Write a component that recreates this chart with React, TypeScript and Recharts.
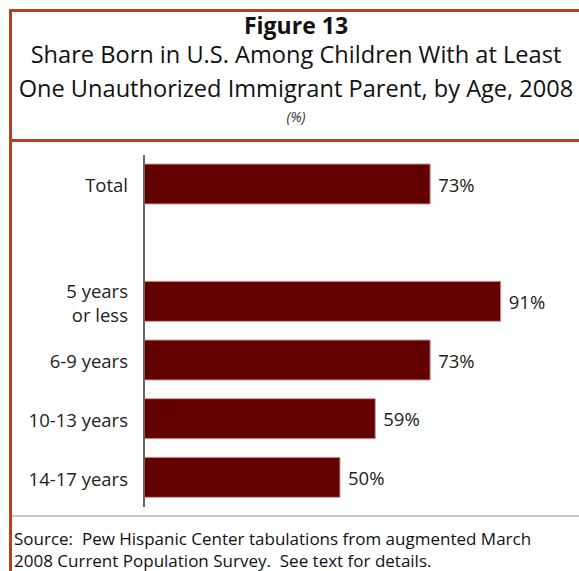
import React from 'react';
import { BarChart, Bar, XAxis, YAxis, LabelList } from 'recharts';

const categories = ['Total', '', '5 years\nor less', '6-9 years', '10-13 years', '14-17 years'];
const values: (number | null)[] = [73, null, 91, 73, 59, 50];

const titleMain = 'Figure 13';
const titleLines = ['Share Born in U.S. Among Children With at Least', 'One Unauthorized Immigrant Parent, by Age, 2008'];
const unitLabel = '(%)';
const sourceLines = [
  'Source:  Pew Hispanic Center tabulations from augmented March',
  '2008 Current Population Survey.  See text for details.',
];

const data = categories.map((name, i) => ({ name, value: values[i] }));

const FONT = '"Open Sans", "Noto Sans", sans-serif';
const FRAME = '#b5421d';

const Tick = (props: any) => {
  const { x, y, payload } = props;
  const lines = String(payload.value).split('\n');
  const lh = 24;
  const start = y - ((lines.length - 1) * lh) / 2;
  return (
    <text x={x} y={start} textAnchor="end" fill="#222" fontSize={18.5} fontFamily={FONT} dominantBaseline="central">
      {lines.map((l, i) => (
        <tspan key={i} x={x} dy={i === 0 ? 0 : lh}>
          {l}
        </tspan>
      ))}
    </text>
  );
};

const ValueLabel = (props: any) => {
  const { x, y, width, height, value } = props;
  if (value === null || value === undefined) return null;
  return (
    <text x={x + width + 8} y={y + height / 2} fill="#222" fontSize={18.5} fontFamily={FONT} dominantBaseline="central">
      {value}%
    </text>
  );
};

export default function App() {
  return (
    <div style={{ position: 'fixed', left: 8, top: 8, width: 571, height: 563, overflow: 'hidden', fontFamily: FONT, background: '#fff' }}>
      <div style={{ position: 'absolute', left: 1, top: 1, width: 574, height: 620, border: `3px solid ${FRAME}`, boxSizing: 'border-box' }} />
      <div style={{ position: 'absolute', left: 1, top: 131, width: 574, height: 3, background: FRAME }} />
      <div style={{ position: 'absolute', left: 0, top: 4, width: 576, textAlign: 'center', fontSize: 23, fontWeight: 700, lineHeight: '26px', color: '#111' }}>
        {titleMain}
      </div>
      {titleLines.map((t, i) => (
        <div key={i} style={{ position: 'absolute', left: 0, top: 30 + i * 34, width: 576, textAlign: 'center', fontSize: 23.6, lineHeight: '32px', color: '#111', whiteSpace: 'nowrap' }}>
          {t}
        </div>
      ))}
      <div style={{ position: 'absolute', left: 0, top: 99, width: 576, textAlign: 'center', fontSize: 14, fontStyle: 'italic', lineHeight: '20px', color: '#333' }}>
        {unitLabel}
      </div>
      <div style={{ position: 'absolute', left: 0, top: 137 }}>
        <BarChart width={571} height={380} data={data} layout="vertical" margin={{ top: 10, right: 43, bottom: 18, left: 0 }}>
          <XAxis type="number" domain={[0, 100]} hide />
          <YAxis
            type="category"
            dataKey="name"
            width={136}
            axisLine={{ stroke: '#666', strokeWidth: 2 }}
            tickLine={false}
            tickMargin={10}
            tick={<Tick />}
            interval={0}
          />
          <Bar dataKey="value" fill="#630000" stroke="#c99" strokeWidth={1} barSize={40} isAnimationActive={false}>
            <LabelList dataKey="value" content={<ValueLabel />} />
          </Bar>
        </BarChart>
      </div>
      <div style={{ position: 'absolute', left: 4, top: 507, width: 572, height: 2, background: '#c8c8c8' }} />
      {sourceLines.map((t, i) => (
        <div key={i} style={{ position: 'absolute', left: 6, top: 520 + i * 22, fontSize: 17, lineHeight: '22px', color: '#111', whiteSpace: 'pre' }}>
          {t}
        </div>
      ))}
    </div>
  );
}
